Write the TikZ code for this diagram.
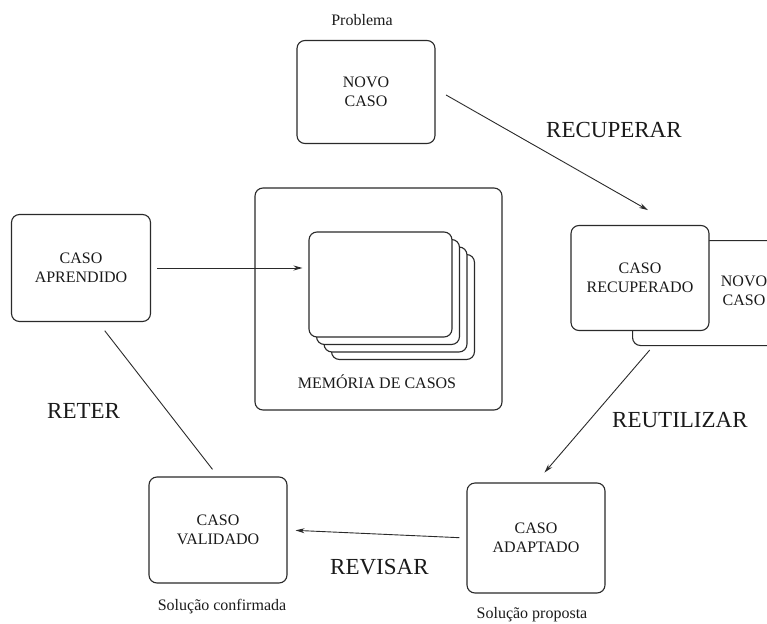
\documentclass[tikz,border=0pt]{standalone}
\usepackage{fontspec}
\setmainfont{Liberation Serif}
\usetikzlibrary{arrows.meta,positioning,calc}
\definecolor{cLine}{HTML}{2A2A2A}
\definecolor{cInk}{HTML}{1A1A1A}
\tikzset{
  cbox/.style={draw=cLine,fill=white,rounded corners=8pt,line width=1.1pt,minimum width=138pt,minimum height=105pt,align=center,inner sep=0pt,font=\fontsize{16}{19}\selectfont,text=cInk},
  card/.style={draw=cLine,fill=white,rounded corners=8pt,line width=1.1pt,minimum width=143pt,minimum height=105pt,inner sep=0pt},
  arr/.style={-{Stealth[length=9pt,width=5pt]},line width=0.9pt,color=cLine},
  lbl/.style={font=\fontsize{16}{19}\selectfont,text=cInk,inner sep=0pt,align=center},
  phase/.style={font=\fontsize{23}{27}\selectfont,text=cInk,inner sep=0pt,anchor=base west},
}

\begin{document}
\begin{tikzpicture}[x=1pt,y=-1pt]
    \useasboundingbox (0,0) rectangle (767,623);
    \clip (0,0) rectangle (767,623);
    % case memory with its stack of cards
    \node[card,minimum width=247pt,minimum height=222pt] (mem) at (378.5,299) {};
    \foreach \k in {3,2,1,0}
      \node[card] (c\k) at ({380.5+7.5*\k},{284.5+7.5*\k}) {};
    \node[lbl] (memtxt) at (377,382) {MEMÓRIA DE CASOS};
    % cycle boxes
    \node[lbl] (prob) at (362,20) {Problema};
    \node[cbox,minimum height=103pt] (novo) at (366,92) {NOVO\\CASO};
    \node[cbox,anchor=north west,minimum width=144pt] (novob) at (632,240) {};
    \node[lbl] (novobtxt) at (744,291) {NOVO\\CASO};
    \node[cbox] (recup) at (640,278) {CASO\\RECUPERADO};
    \node[cbox,minimum height=110pt] (adapt) at (536,538) {CASO\\ADAPTADO};
    \node[lbl] (prop) at (532,615) {Solução proposta};
    \node[cbox,minimum height=106pt] (valid) at (218,530) {CASO\\VALIDADO};
    \node[lbl] (conf) at (222,607) {Solução confirmada};
    \node[cbox,minimum width=139pt,minimum height=107pt] (aprend) at (81,268) {CASO\\APRENDIDO};
    % phase names
    \node[phase] (recuperar) at (546,137) {RECUPERAR};
    \node[phase] (reutilizar) at (612,427) {REUTILIZAR};
    \node[phase] (revisar) at (330,574) {REVISAR};
    \node[phase] (reter) at (47,418) {RETER};
    % connectors
    \draw[arr,shorten <=12pt,shorten >=30pt] ($(novo.east)+(0,-3)$) -- ($(recup.north)+(34,0)$);
    \draw[arr,shorten <=25pt,shorten >=13pt] ($(recup.south)+(26,0)$) -- (adapt.north);
    \draw[arr,shorten <=7pt,shorten >=8pt] (adapt.west) -- (valid.east);
    \draw[line width=0.9pt,color=cLine,shorten <=9pt,shorten >=11pt] (valid.north) -- ($(aprend.south)+(17,0)$);
    \draw[arr,shorten <=6pt,shorten >=6pt] (aprend.east) -- (aprend.east -| c0.west);
  \end{tikzpicture}
\end{document}
